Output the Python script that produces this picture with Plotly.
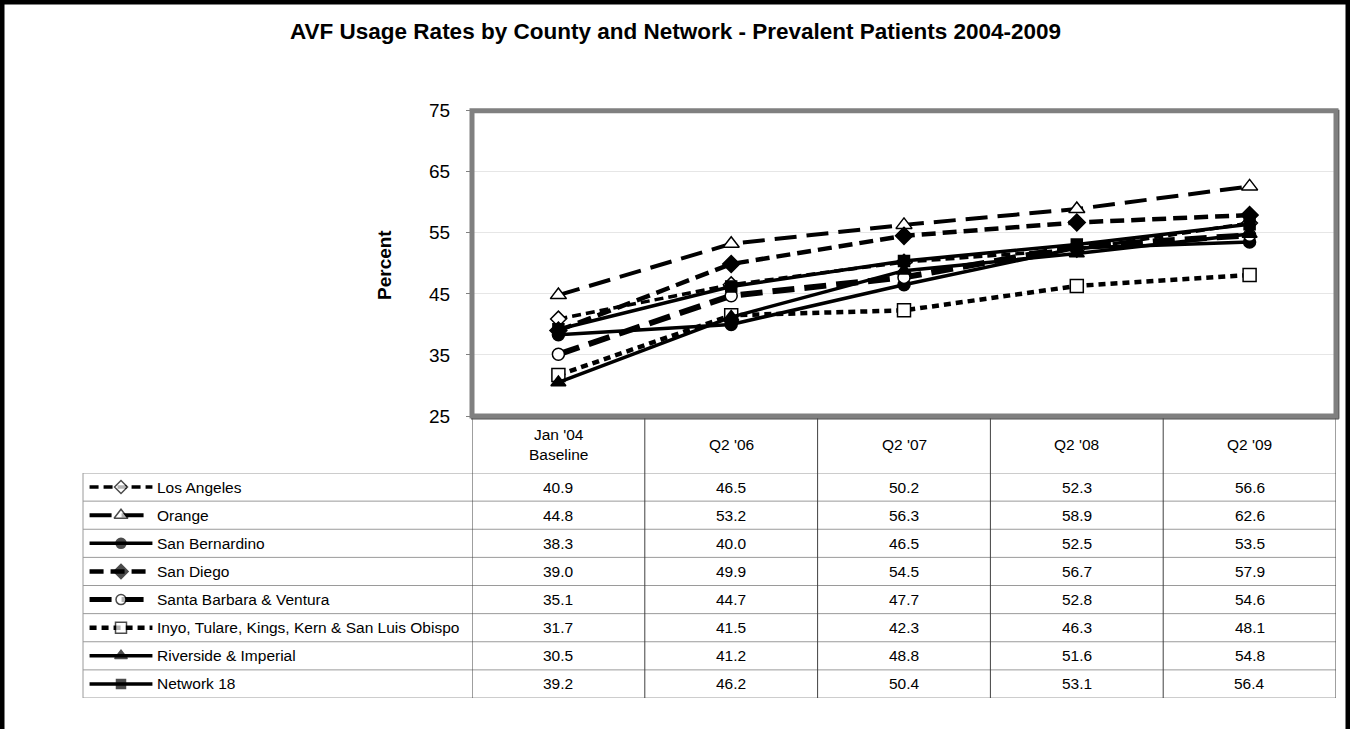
import plotly.graph_objects as go

W, H = 1350, 729

categories = ["Jan '04<br>Baseline", "Q2 '06", "Q2 '07", "Q2 '08", "Q2 '09"]
series_names = [
    "Los Angeles",
    "Orange",
    "San Bernardino",
    "San Diego",
    "Santa Barbara & Ventura",
    "Inyo, Tulare, Kings, Kern & San Luis Obispo",
    "Riverside & Imperial",
    "Network 18",
]
los_angeles = [40.9, 46.5, 50.2, 52.3, 56.6]
orange = [44.8, 53.2, 56.3, 58.9, 62.6]
san_bernardino = [38.3, 40.0, 46.5, 52.5, 53.5]
san_diego = [39.0, 49.9, 54.5, 56.7, 57.9]
santa_barbara = [35.1, 44.7, 47.7, 52.8, 54.6]
inyo = [31.7, 41.5, 42.3, 46.3, 48.1]
riverside = [30.5, 41.2, 48.8, 51.6, 54.8]
network18 = [39.2, 46.2, 50.4, 53.1, 56.4]
series_values = [los_angeles, orange, san_bernardino, san_diego,
                 santa_barbara, inyo, riverside, network18]
y_ticks = [25, 35, 45, 55, 65, 75]

# styles: (dash, width, symbol, size, filled)
styles = [
    ("9px,5px", 3.5, "diamond", 12, False),
    ("22px,10px", 4, "triangle-up", 14, False),
    ("solid", 3.5, "circle", 12, True),
    ("14px,7px", 4.5, "diamond", 13, True),
    ("22px,10px", 6, "circle", 12, False),
    ("7px,5px", 4.5, "square", 13, False),
    ("solid", 3.5, "triangle-up", 13, True),
    ("solid", 3.5, "square", 11, True),
]

FONT = "Liberation Sans, Arial, sans-serif"
TABLE_FONT = 15.5

def px_x(v):
    return v / W

def px_y(v):
    return 1 - v / H

PX0, PX1 = 472, 1336
PY0, PY1 = 110.7, 416
TY0, TY1 = 473, 698

fig = go.Figure()

xcat = list(range(len(categories)))
for name, vals, (dash, lw, sym, ms, filled) in zip(series_names, series_values, styles):
    fig.add_trace(go.Scatter(
        x=xcat, y=vals, mode="lines+markers", name=name,
        line=dict(color="black", width=lw, dash=dash),
        marker=dict(symbol=sym, size=ms,
                    color="black" if filled else "white",
                    line=dict(color="black", width=1.5)),
        xaxis="x", yaxis="y", hoverinfo="skip", showlegend=False,
    ))

# legend keys inside the table rows
for name, (dash, lw, sym, ms, filled) in zip(series_names, styles):
    fig.add_trace(go.Scatter(
        x=[0, 1, 2], y=[name] * 3, mode="lines+markers",
        line=dict(color="black", width=min(lw, 5), dash=dash),
        marker=dict(symbol=sym, size=[0, ms - 2, 0],
                    color="black" if filled else "white",
                    line=dict(color="black", width=[0, 1.5, 0])),
        xaxis="x2", yaxis="y2", hoverinfo="skip", showlegend=False,
    ))

shapes = []
# outer black frame
shapes.append(dict(type="rect", xref="paper", yref="paper", x0=0, x1=1, y0=-0.2, y1=1,
                   line=dict(color="black", width=9)))
# table horizontal lines
for i in range(len(series_names) + 1):
    shapes.append(dict(type="line", xref="paper", yref="y2",
                       x0=px_x(83), x1=px_x(PX1), y0=i - 0.5, y1=i - 0.5,
                       line=dict(color="#9a9a9a", width=1)))
# table vertical lines (column boundaries)
for j in range(len(categories) + 1):
    shapes.append(dict(type="line", xref="x", yref="paper",
                       x0=j - 0.5, x1=j - 0.5, y0=px_y(TY1), y1=px_y(PY1),
                       line=dict(color="#404040", width=1)))
shapes.append(dict(type="line", xref="paper", yref="paper",
                   x0=px_x(83), x1=px_x(83), y0=px_y(TY1), y1=px_y(TY0),
                   line=dict(color="#9a9a9a", width=1)))
# plot area border with slight shadow
shapes.append(dict(type="rect", xref="paper", yref="paper",
                   x0=px_x(PX0), x1=px_x(PX1), y0=px_y(PY1), y1=px_y(PY0),
                   line=dict(color="#808080", width=5)))
shapes.append(dict(type="line", xref="paper", yref="paper",
                   x0=px_x(PX1 + 2.8), x1=px_x(PX1 + 2.8), y0=px_y(PY1 + 2.8), y1=px_y(PY0 - 1),
                   line=dict(color="#505050", width=1.2)))
shapes.append(dict(type="line", xref="paper", yref="paper",
                   x0=px_x(PX0 - 1), x1=px_x(PX1 + 2.8), y0=px_y(PY1 + 2.8), y1=px_y(PY1 + 2.8),
                   line=dict(color="#505050", width=1.2)))

annotations = []
annotations.append(dict(text="<b>AVF Usage Rates by County and Network - Prevalent Patients 2004-2009</b>",
                        xref="paper", yref="paper", x=0.5, y=px_y(32), showarrow=False,
                        xanchor="center", yanchor="middle",
                        font=dict(family=FONT, size=22.5, color="black")))
annotations.append(dict(text="<b>Percent</b>", xref="paper", yref="paper",
                        x=px_x(384), y=px_y(265), showarrow=False, textangle=-90,
                        xanchor="center", yanchor="middle",
                        font=dict(family=FONT, size=19, color="black")))
for j, c in enumerate(categories):
    annotations.append(dict(text=c, xref="x", yref="paper", x=j, y=px_y(444),
                            showarrow=False, xanchor="center", yanchor="middle",
                            font=dict(family=FONT, size=TABLE_FONT, color="black")))
for name, vals in zip(series_names, series_values):
    annotations.append(dict(text=name, xref="paper", yref="y2", x=px_x(155), y=name,
                            showarrow=False, xanchor="left", yanchor="middle",
                            font=dict(family=FONT, size=TABLE_FONT, color="black")))
    for j, v in enumerate(vals):
        annotations.append(dict(text=f"{v:.1f}", xref="x", yref="y2", x=j, y=name,
                                showarrow=False, xanchor="center", yanchor="middle",
                                font=dict(family=FONT, size=TABLE_FONT, color="black")))

fig.update_layout(
    template="none",
    width=W, height=H,
    margin=dict(l=0, r=0, t=0, b=0, pad=0, autoexpand=False),
    paper_bgcolor="white", plot_bgcolor="white",
    showlegend=False,
    font=dict(family=FONT, color="black"),
    xaxis=dict(domain=[px_x(PX0), px_x(PX1)], range=[-0.5, len(categories) - 0.5],
               showticklabels=False, showgrid=False, zeroline=False, ticks="",
               showline=False, anchor="y", fixedrange=True, automargin=False),
    yaxis=dict(domain=[px_y(PY1), px_y(PY0)], range=[25, 75], tickvals=y_ticks,
               showgrid=True, gridcolor="#e6e6e6", gridwidth=1, zeroline=False,
               showline=False, ticks="outside", ticklen=5, tickcolor="#808080",
               tickfont=dict(family=FONT, size=19, color="black"),
               ticklabelstandoff=12, anchor="x", fixedrange=True, automargin=False),
    xaxis2=dict(domain=[px_x(88), px_x(154)], range=[-0.05, 2.05], visible=False,
                anchor="y2", fixedrange=True, automargin=False),
    yaxis2=dict(domain=[px_y(TY1), px_y(TY0)], type="category",
                categoryorder="array", categoryarray=series_names,
                range=[len(series_names) - 0.5, -0.5], visible=False,
                anchor="x2", fixedrange=True, automargin=False),
    shapes=shapes,
    annotations=annotations,
)

fig.write_html("out.html", config={"displayModeBar": False})

with open("out.html", "r", encoding="utf-8") as f:
    html = f.read()
style = ("<style>html,body{margin:0;padding:0;overflow:hidden;background:white}"
         ".plotly-graph-div{position:absolute;top:0;left:0}</style>")
html = html.replace("<head>", "<head>" + style, 1)
with open("out.html", "w", encoding="utf-8") as f:
    f.write(html)
